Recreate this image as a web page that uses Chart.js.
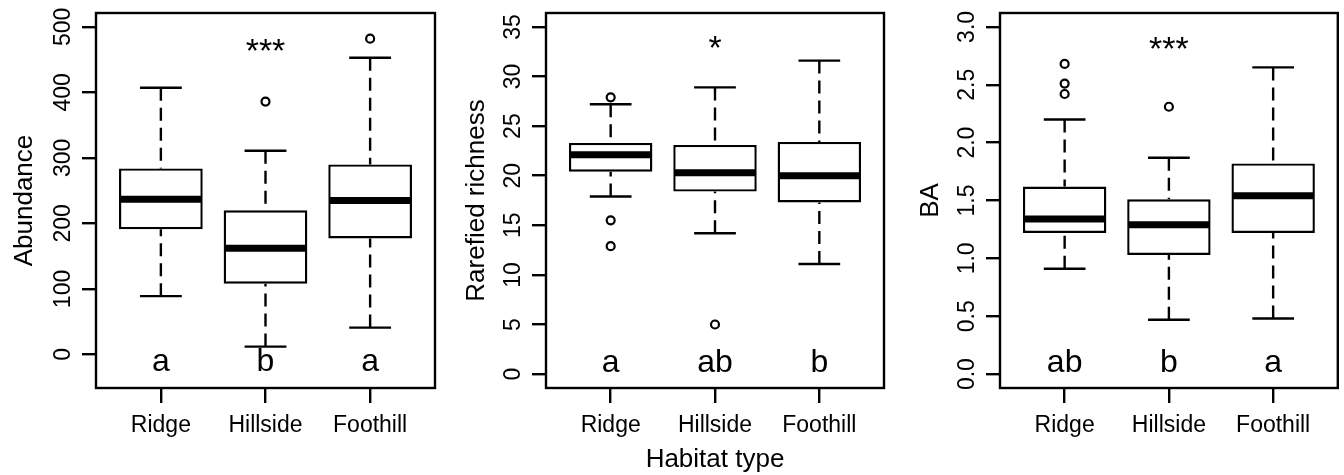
<!DOCTYPE html>
<html>
<head>
<meta charset="utf-8">
<title>Habitat type – Abundance, Rarefied richness, BA</title>
<script src="https://cdn.jsdelivr.net/npm/chart.js@4.4.1/dist/chart.umd.min.js"></script>
<style>
  html, body { margin: 0; padding: 0; background: #fff; }
  #wrap { display: flex; width: 1344px; height: 475px; }
  .panel { position: relative; width: 448px; height: 475px; }
</style>
</head>
<body>
<div id="wrap">
  <div class="panel"><canvas id="chart-abund" width="448" height="475"></canvas></div>
  <div class="panel"><canvas id="chart-rich" width="448" height="475"></canvas></div>
  <div class="panel"><canvas id="chart-ba" width="448" height="475"></canvas></div>
</div>
<script>
// ── Data ───────────────────────────────────────────────────
const CATEGORIES = ['Ridge', 'Hillside', 'Foothill'];
const X_POS      = [1, 2, 3];

// Abundance
const ABUND_LOW  = [89, 12, 41];
const ABUND_Q1   = [191, 108, 177];
const ABUND_MED  = [237, 162, 235];
const ABUND_Q3   = [284, 220, 290];
const ABUND_HIGH = [407, 311, 453];
const ABUND_OUT  = [[], [386], [482]];
const ABUND_TICKS = [0, 100, 200, 300, 400, 500];
const ABUND_TICK_LABELS = ['0', '100', '200', '300', '400', '500'];
const ABUND_LETTERS = ['a', 'b', 'a'];
const ABUND_LETTER_Y = -25.5;
const ABUND_SIG = '***';
const ABUND_SIG_Y = 477;

// Rarefied richness
const RICH_LOW  = [17.9, 14.2, 11.1];
const RICH_Q1   = [20.4, 18.4, 17.3];
const RICH_MED  = [22.1, 20.3, 20.0];
const RICH_Q3   = [23.3, 23.1, 23.4];
const RICH_HIGH = [27.2, 28.9, 31.6];
const RICH_OUT  = [[27.9, 15.5, 12.9], [5.0], []];
const RICH_TICKS = [0, 5, 10, 15, 20, 25, 30, 35];
const RICH_TICK_LABELS = ['0', '5', '10', '15', '20', '25', '30', '35'];
const RICH_LETTERS = ['a', 'ab', 'b'];
const RICH_LETTER_Y = 0.17;
const RICH_SIG = '*';
const RICH_SIG_Y = 33.8;

// BA
const BA_LOW  = [0.91, 0.47, 0.48];
const BA_Q1   = [1.22, 1.03, 1.22];
const BA_MED  = [1.34, 1.29, 1.54];
const BA_Q3   = [1.62, 1.51, 1.82];
const BA_HIGH = [2.20, 1.87, 2.65];
const BA_OUT  = [[2.68, 2.51, 2.42], [2.31], []];
const BA_TICKS = [0, 0.5, 1, 1.5, 2, 2.5, 3];
const BA_TICK_LABELS = ['0.0', '0.5', '1.0', '1.5', '2.0', '2.5', '3.0'];
const BA_LETTERS = ['ab', 'b', 'a'];
const BA_LETTER_Y = 0.015;
const BA_SIG = '***';
const BA_SIG_Y = 2.885;

// ── Styles ─────────────────────────────────────────────────
const FAMILY = '"Liberation Sans", Arial, sans-serif';
const TICK_PX = 23, TITLE_PX = 26, LETTER_PX = 32, SIG_PX = 34;
const LINE_W = 2.4, MED_W = 7;
const BOX_HALF = 0.4, CAP_HALF = 0.2;
const X_MIN = 0.38, X_MAX = 3.62;
const CANVAS_H = 475, PLOT_BOTTOM = 388, PLOT_TOP = 13;

const PANELS = [
  { id: 'chart-abund', title: 'Abundance', low: ABUND_LOW, q1: ABUND_Q1, med: ABUND_MED, q3: ABUND_Q3,
    high: ABUND_HIGH, out: ABUND_OUT, ticks: ABUND_TICKS, tickLabels: ABUND_TICK_LABELS,
    letters: ABUND_LETTERS, letterY: ABUND_LETTER_Y, sig: ABUND_SIG, sigY: ABUND_SIG_Y,
    yMin: -51.2, yMax: 521.2, left: 96, padRight: 13, titleGap: 64 },
  { id: 'chart-rich', title: 'Rarefied richness', low: RICH_LOW, q1: RICH_Q1, med: RICH_MED, q3: RICH_Q3,
    high: RICH_HIGH, out: RICH_OUT, ticks: RICH_TICKS, tickLabels: RICH_TICK_LABELS,
    letters: RICH_LETTERS, letterY: RICH_LETTER_Y, sig: RICH_SIG, sigY: RICH_SIG_Y,
    yMin: -1.4, yMax: 36.4, left: 98, padRight: 12, titleGap: 62, xTitle: 'Habitat type' },
  { id: 'chart-ba', title: 'BA', low: BA_LOW, q1: BA_Q1, med: BA_MED, q3: BA_Q3,
    high: BA_HIGH, out: BA_OUT, ticks: BA_TICKS, tickLabels: BA_TICK_LABELS,
    letters: BA_LETTERS, letterY: BA_LETTER_Y, sig: BA_SIG, sigY: BA_SIG_Y,
    yMin: -0.12, yMax: 3.12, left: 104, padRight: 5, titleGap: 62 },
];

// ── Box-plot drawing (whiskers, medians, texts) ───────────
function line(ctx, x1, y1, x2, y2) {
  ctx.beginPath();
  ctx.moveTo(x1, y1);
  ctx.lineTo(x2, y2);
  ctx.stroke();
}

function makeExtras(p) {
  return {
    id: 'boxExtras',
    afterDatasetsDraw(chart) {
      const { ctx, scales: { x, y } } = chart;
      ctx.save();
      ctx.strokeStyle = '#000';
      ctx.lineCap = 'butt';
      X_POS.forEach((xv, i) => {
        const cx = x.getPixelForValue(xv);
        const cl = x.getPixelForValue(xv - CAP_HALF), cr = x.getPixelForValue(xv + CAP_HALF);
        const bl = x.getPixelForValue(xv - BOX_HALF), br = x.getPixelForValue(xv + BOX_HALF);
        ctx.lineWidth = LINE_W;
        ctx.setLineDash([13, 7]);
        line(ctx, cx, y.getPixelForValue(p.high[i]), cx, y.getPixelForValue(p.q3[i]));
        line(ctx, cx, y.getPixelForValue(p.low[i]), cx, y.getPixelForValue(p.q1[i]));
        ctx.setLineDash([]);
        line(ctx, cl, y.getPixelForValue(p.high[i]), cr, y.getPixelForValue(p.high[i]));
        line(ctx, cl, y.getPixelForValue(p.low[i]), cr, y.getPixelForValue(p.low[i]));
        ctx.lineWidth = MED_W;
        const my = y.getPixelForValue(p.med[i]);
        line(ctx, bl + 1, my, br - 1, my);
      });
      ctx.restore();
    },
    afterDraw(chart) {
      const { ctx, chartArea: a, scales: { x, y } } = chart;
      ctx.save();
      ctx.strokeStyle = '#000';
      ctx.fillStyle = '#000';
      ctx.lineWidth = LINE_W;
      ctx.strokeRect(a.left, a.top, a.right - a.left, a.bottom - a.top);

      // y tick labels (rotated, R style)
      ctx.font = `${TICK_PX}px ${FAMILY}`;
      ctx.textAlign = 'center';
      ctx.textBaseline = 'alphabetic';
      y.ticks.forEach((t, i) => {
        ctx.save();
        ctx.translate(a.left - 26, y.getPixelForValue(t.value));
        ctx.rotate(-Math.PI / 2);
        ctx.fillText(p.tickLabels[i], 0, 0);
        ctx.restore();
      });
      // x tick labels
      x.ticks.forEach((t, i) => {
        ctx.fillText(CATEGORIES[i], x.getPixelForValue(t.value), a.bottom + 44);
      });

      // axis titles
      ctx.font = `${TITLE_PX}px ${FAMILY}`;
      ctx.save();
      ctx.translate(a.left - p.titleGap, (a.top + a.bottom) / 2);
      ctx.rotate(-Math.PI / 2);
      ctx.fillText(p.title, 0, 0);
      ctx.restore();
      if (p.xTitle) ctx.fillText(p.xTitle, (a.left + a.right) / 2, a.bottom + 79);

      // group letters
      ctx.font = `${LETTER_PX}px ${FAMILY}`;
      X_POS.forEach((xv, i) => {
        ctx.fillText(p.letters[i], x.getPixelForValue(xv), y.getPixelForValue(p.letterY));
      });

      // significance stars (centred on sigY)
      ctx.font = `${SIG_PX}px ${FAMILY}`;
      ctx.fillText(p.sig, x.getPixelForValue(X_POS[1]), y.getPixelForValue(p.sigY) + SIG_PX * 0.59);
      ctx.restore();
    },
  };
}

// ── Charts ─────────────────────────────────────────────────
function initPanel(p) {
  const ctx = document.getElementById(p.id).getContext('2d');
  const outliers = [];
  p.out.forEach((vals, i) => vals.forEach(v => outliers.push({ x: X_POS[i], y: v })));

  const tickGrid = len => ({
    offset: false, drawOnChartArea: false, drawTicks: true, tickLength: len,
    color: '#000', tickColor: '#000', lineWidth: LINE_W, tickWidth: LINE_W,
  });

  new Chart(ctx, {
    type: 'bar',
    data: {
      datasets: [
        {
          type: 'scatter',
          data: outliers,
          pointStyle: 'circle',
          pointRadius: 4,
          borderWidth: 2.2,
          borderColor: '#000',
          backgroundColor: 'rgba(0,0,0,0)',
        },
        {
          type: 'bar',
          data: X_POS.map((xv, i) => ({ x: xv, y: [p.q1[i], p.q3[i]] })),
          backgroundColor: '#fff',
          borderColor: '#000',
          borderWidth: LINE_W,
          borderSkipped: false,
          barPercentage: BOX_HALF * 2,
          categoryPercentage: 1,
        },
      ],
    },
    options: {
      responsive: false,
      animation: false,
      devicePixelRatio: 1,
      events: [],
      layout: { padding: { left: 0, right: p.padRight, top: PLOT_TOP, bottom: 0 } },
      plugins: { legend: { display: false }, tooltip: { enabled: false } },
      scales: {
        x: {
          type: 'linear', min: X_MIN, max: X_MAX, offset: false,
          afterBuildTicks: s => { s.ticks = X_POS.map(v => ({ value: v })); },
          afterFit: s => { s.height = CANVAS_H - PLOT_BOTTOM; },
          ticks: { display: false },
          grid: tickGrid(15),
          border: { display: false },
        },
        y: {
          type: 'linear', min: p.yMin, max: p.yMax,
          afterBuildTicks: s => { s.ticks = p.ticks.map(v => ({ value: v })); },
          afterFit: s => { s.width = p.left; },
          ticks: { display: false },
          grid: tickGrid(14),
          border: { display: false },
        },
      },
    },
    plugins: [makeExtras(p)],
  });
}

document.addEventListener('DOMContentLoaded', () => {
  PANELS.forEach(initPanel);
});
</script>
</body>
</html>
